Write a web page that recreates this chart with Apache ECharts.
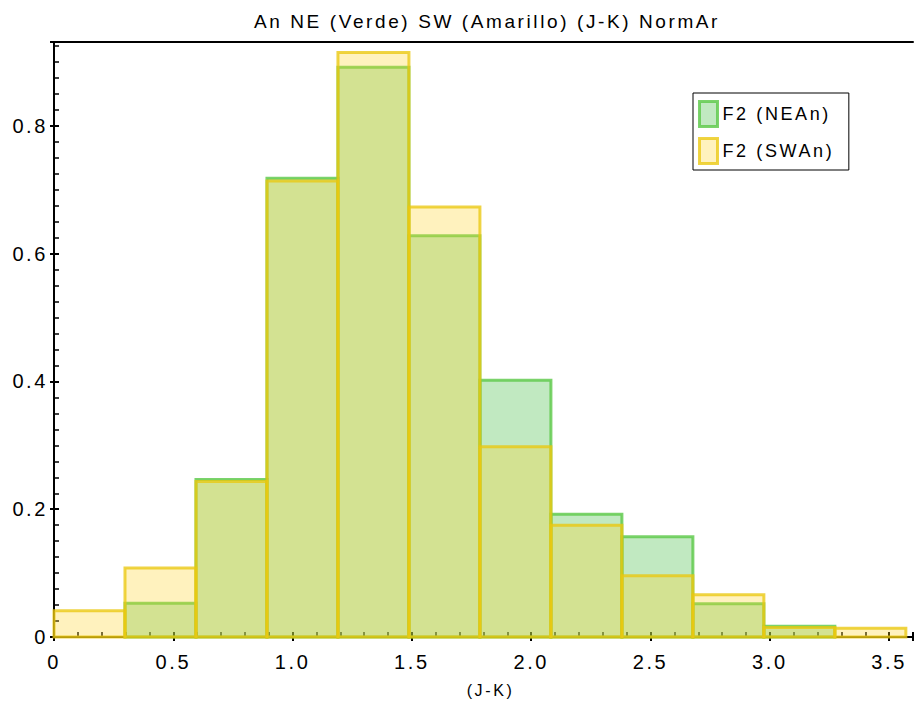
<!DOCTYPE html>
<html>
<head>
<meta charset="utf-8">
<script src="https://cdn.jsdelivr.net/npm/echarts@6/dist/echarts.min.js"></script>
<style>
html,body{margin:0;padding:0;background:#fff;}
#chart{width:915px;height:708px;}
#chart text{letter-spacing:2.6px;}
</style>
</head>
<body>
<div id="chart"></div>
<script>
// Bin edges along (J-K)
var binEdges = [0, 0.2975, 0.595, 0.8925, 1.19, 1.4875, 1.785, 2.0825, 2.38, 2.6775, 2.975, 3.2725, 3.57];
// Normalised counts per bin
var neValues = [0, 0.053, 0.2466, 0.718, 0.892, 0.628, 0.402, 0.192, 0.157, 0.052, 0.017, 0];
var swValues = [0.041, 0.108, 0.2435, 0.714, 0.915, 0.673, 0.298, 0.175, 0.096, 0.066, 0.015, 0.0136];
var seriesNames = ['F2 (NEAn)', 'F2 (SWAn)'];
var titleText = 'An NE (Verde) SW (Amarillo) (J-K) NormAr';
var xName = '(J-K)';

function toData(vals){
  var out = [];
  for (var i = 0; i < vals.length; i++) out.push([binEdges[i], binEdges[i+1], vals[i]]);
  return out;
}

var FONT = '"Liberation Sans", Arial, Helvetica, sans-serif';
var styles = [
  {fill: 'rgba(100,200,100,0.4)', stroke: 'rgba(90,200,70,0.8)'},
  {fill: 'rgba(255,212,40,0.3)', stroke: 'rgba(235,200,15,0.78)'}
];

function makeRender(st){
  return function(params, api){
    var v = api.value(2);
    if (!(v > 0)) return null;
    var p0 = api.coord([api.value(0), 0]);
    var p1 = api.coord([api.value(1), v]);
    return {
      type: 'rect',
      shape: {x: p0[0], y: p1[1], width: p1[0] - p0[0], height: p0[1] - p1[1]},
      style: {fill: st.fill, stroke: st.stroke, lineWidth: 3}
    };
  };
}

var chart = echarts.init(document.getElementById('chart'), null, {renderer: 'svg'});
var xMin = 0, xMax = 3.6, yMin = 0, yMax = 0.9315;

chart.setOption({
  animation: false,
  backgroundColor: '#fff',
  title: {
    text: titleText, left: 482, top: 7, textAlign: 'center',
    textStyle: {fontFamily: FONT, fontSize: 19, fontWeight: 'normal', color: '#000'}
  },
  legend: {
    orient: 'vertical', left: 693, top: 93,
    padding: [7, 38, 5, 5], itemGap: 9,
    itemWidth: 18, itemHeight: 25,
    borderColor: '#000', borderWidth: 1, backgroundColor: '#fff',
    textStyle: {fontFamily: FONT, fontSize: 18, color: '#000'},
    data: [
      {name: seriesNames[0], icon: 'rect', itemStyle: {color: styles[0].fill, borderColor: styles[0].stroke, borderWidth: 3}},
      {name: seriesNames[1], icon: 'rect', itemStyle: {color: styles[1].fill, borderColor: styles[1].stroke, borderWidth: 3}}
    ]
  },
  grid: {left: 54, right: 2, top: 42, bottom: 71, containLabel: false},
  xAxis: [
    {
      type: 'value', min: xMin, max: xMax, interval: 0.5, position: 'bottom',
      name: xName, nameLocation: 'middle', nameGap: 45,
      nameTextStyle: {fontFamily: FONT, fontSize: 16, color: '#000', padding: [0, 0, 0, 14]},
      axisLine: {show: true, lineStyle: {color: '#000', width: 2}},
      axisTick: {show: true, inside: true, length: 5, lineStyle: {color: '#000', width: 2}},
      minorTick: {show: true, splitNumber: 5, length: 5, lineStyle: {color: '#000', width: 1.5}},
      axisLabel: {margin: 15, fontFamily: FONT, fontSize: 20, color: '#000',
        formatter: function(v){ return v === 0 ? '0' : v.toFixed(1); }, showMaxLabel: false},
      splitLine: {show: false}
    },
    {
      type: 'value', min: xMin, max: xMax, interval: 0.5, position: 'bottom',
      axisLine: {show: false},
      axisTick: {show: true, inside: false, length: 4, lineStyle: {color: '#000', width: 2}},
      axisLabel: {show: false}, splitLine: {show: false}
    },
    {
      type: 'value', min: xMin, max: xMax, position: 'top',
      axisLine: {show: true, lineStyle: {color: '#000', width: 2}},
      axisTick: {show: false}, axisLabel: {show: false}, splitLine: {show: false}
    }
  ],
  yAxis: [
    {
      type: 'value', min: yMin, max: yMax, interval: 0.2, position: 'left',
      axisLine: {show: true, lineStyle: {color: '#000', width: 2}},
      axisTick: {show: true, inside: true, length: 5, lineStyle: {color: '#000', width: 2}},
      minorTick: {show: true, splitNumber: 8, length: 5, lineStyle: {color: '#000', width: 1.5}},
      axisLabel: {margin: 6, fontFamily: FONT, fontSize: 20, color: '#000',
        formatter: function(v){ return v === 0 ? '0' : v.toFixed(1); }, showMaxLabel: false},
      splitLine: {show: false}
    },
    {
      type: 'value', min: yMin, max: yMax, interval: 0.2, position: 'left',
      axisLine: {show: false},
      axisTick: {show: true, inside: false, length: 4, lineStyle: {color: '#000', width: 2}},
      axisLabel: {show: false}, splitLine: {show: false}
    }
  ],
  series: [
    {
      name: seriesNames[0], type: 'custom', xAxisIndex: 0, yAxisIndex: 0,
      itemStyle: {color: styles[0].fill, borderColor: styles[0].stroke},
      renderItem: makeRender(styles[0]),
      encode: {x: [0, 1], y: 2},
      data: toData(neValues), z: 2
    },
    {
      name: seriesNames[1], type: 'custom', xAxisIndex: 0, yAxisIndex: 0,
      itemStyle: {color: styles[1].fill, borderColor: styles[1].stroke},
      renderItem: makeRender(styles[1]),
      encode: {x: [0, 1], y: 2},
      data: toData(swValues), z: 3
    }
  ]
});
</script>
</body>
</html>
